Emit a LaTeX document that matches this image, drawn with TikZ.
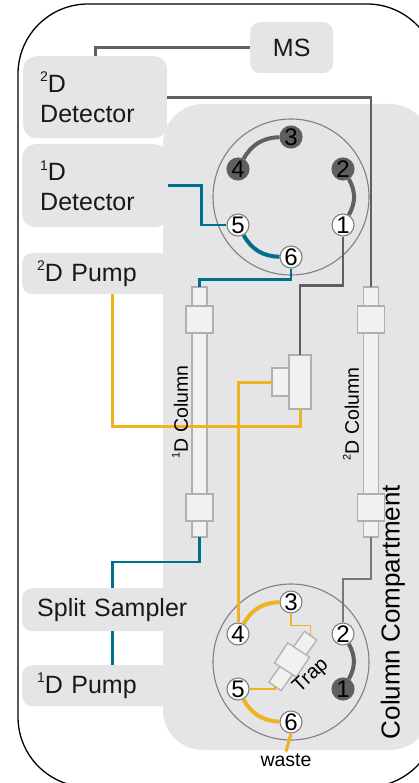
\documentclass[tikz,border=0pt]{standalone}
\usepackage{fontspec}
\setmainfont{Liberation Sans}
\usetikzlibrary{calc,positioning}
\definecolor{panelgray}{HTML}{E5E5E7}
\definecolor{partfill}{HTML}{F1F1F1}
\definecolor{partline}{HTML}{B0B0B0}
\definecolor{tubegray}{HTML}{5F5F5F}
\definecolor{tubeteal}{HTML}{00708A}
\definecolor{tubeamber}{HTML}{EFB221}
\pgfmathsetmacro{\tubewidth}{2.7}
\pgfmathsetmacro{\arcwidth}{4}
\newcommand{\labelfont}{\fontsize{25}{30}\selectfont}
\newcommand{\columnfont}{\fontsize{19.5}{23}\selectfont}
\newcommand{\supnum}[1]{\raisebox{0.42em}{\scalebox{0.56}{#1}}}
\tikzset{
    boxnode/.style={fill=panelgray, rounded corners=10pt, anchor=north west, align=left,
        inner xsep=15pt, inner ysep=0pt, font=\labelfont, text=black!90},
    stubnode/.style={draw=partline, fill=partfill, line width=1.3pt, minimum width=15pt,
        minimum height=19pt, inner sep=0pt, outer sep=0pt},
    fittingnode/.style={stubnode, minimum width=27pt, minimum height=27pt},
    tubenode/.style={stubnode, minimum height=161pt},
    portnode/.style={circle, draw=gray, fill=white, line width=1.1pt, minimum size=22pt,
        inner sep=0pt, font=\fontsize{24}{24}\selectfont},
    darkport/.style={portnode, draw=tubegray, fill=tubegray},
    valvenode/.style={circle, draw=gray, line width=1.1pt, minimum size=156pt, inner sep=0pt},
    grayline/.style={draw=tubegray, line width=\tubewidth pt},
    tealline/.style={draw=tubeteal, line width=\tubewidth pt},
    amberline/.style={draw=tubeamber, line width=3pt},
}
\begin{document}
\begin{tikzpicture}[x=1pt, y=1pt]
    \useasboundingbox (0,-783) rectangle (418,0);
    % housing and compartment
    \draw[black, line width=1.3pt, rounded corners=70pt] (18,-4) rectangle (437,-787);
    \fill[panelgray, rounded corners=40pt] (163,-104) rectangle (430,-750);
    % define boxes
    \node[boxnode, minimum width=83pt, minimum height=51pt, align=center, inner xsep=0pt] (ms) at (250,-22) {\raisebox{-4pt}{MS}};
    \node[boxnode, text width=110pt, minimum height=82pt, inner xsep=17pt, rounded corners=13pt] (det_two) at (23,-56) {\supnum{2}D\\Detector};
    \node[boxnode, text width=110pt, minimum height=83pt, inner xsep=18pt, rounded corners=13pt] (det_one) at (22,-144) {\supnum{1}D\\Detector};
    \node[boxnode, text width=150pt, minimum height=41pt] (pump_two) at (22,-253) {\raisebox{-2pt}{\supnum{2}D Pump}};
    \node[boxnode, text width=150pt, minimum height=43pt] (sampler) at (22,-588) {\mbox{Split Sampler}};
    \node[boxnode, text width=150pt, minimum height=41pt] (pump_one) at (22,-665) {\raisebox{-2pt}{\supnum{1}D Pump}};
    % first column
    \node[stubnode] (one_top) at (199.5,-296.5) {};
    \node[fittingnode, below=0pt of one_top] (one_fit_a) {};
    \node[tubenode, below=0pt of one_fit_a] (one_tube) {};
    \node[fittingnode, below=0pt of one_tube] (one_fit_b) {};
    \node[stubnode, minimum height=16pt, below=0pt of one_fit_b] (one_bottom) {};
    % second column
    \node[stubnode] (two_top) at (371,-296.5) {};
    \node[fittingnode, below=0pt of two_top] (two_fit_a) {};
    \node[tubenode, below=0pt of two_fit_a] (two_tube) {};
    \node[fittingnode, below=0pt of two_tube] (two_fit_b) {};
    \node[stubnode, minimum height=16pt, below=0pt of two_fit_b] (two_bottom) {};
    % tee
    \node[stubnode, minimum width=22pt, minimum height=54pt] (tee_main) at (300,-382) {};
    \node[stubnode, minimum width=17pt, minimum height=28pt, left=0pt of tee_main] (tee_side) {};
    % upper valve
    \node[valvenode] (top_valve) at (291,-197) {};
    \node[darkport] (top_3) at ($(top_valve)+(0,60)$) {3};
    \node[darkport] (top_2) at ($(top_valve)+(52,28)$) {2};
    \node[portnode] (top_1) at ($(top_valve)+(52,-28)$) {1};
    \node[portnode] (top_6) at ($(top_valve)+(0,-60)$) {6};
    \node[portnode] (top_5) at ($(top_valve)+(-53,-28)$) {5};
    \node[darkport] (top_4) at ($(top_valve)+(-53,28)$) {4};
    % lower valve
    \node[valvenode] (low_valve) at (291,-662) {};
    \node[portnode] (low_3) at ($(low_valve)+(0,60)$) {3};
    \node[portnode] (low_2) at ($(low_valve)+(52,28)$) {2};
    \node[darkport] (low_1) at ($(low_valve)+(52,-27)$) {1};
    \node[portnode] (low_6) at ($(low_valve)+(0,-60)$) {6};
    \node[portnode] (low_5) at ($(low_valve)+(-53,-27)$) {5};
    \node[portnode] (low_4) at ($(low_valve)+(-53,28)$) {4};
    % trap
    \node[stubnode, rotate=55, minimum width=62pt, minimum height=15pt] (trap_tube) at (292.8,-661) {};
    \node[stubnode, rotate=57, minimum width=24pt, minimum height=26pt] (trap_fit) at (292,-660) {};
    % draw connectors
    \draw[grayline] (ms.west) -| (det_two.north);
    \draw[grayline] (det_two.east) -| (two_top.north);
    \draw[grayline] (top_1.south) -- ++(0,-49) -| (tee_main.north);
    \draw[grayline, tubegray!85] (two_bottom.south) -- ++(0,-42) -| (low_2.north);
    \draw[tealline] (det_one.east) -- ++(33,0) |- (top_5.west);
    \draw[tealline] (top_6.south) -- ++(0,-11) -| (one_top.north);
    \draw[tealline] (one_bottom.south) -- ++(0,-25) -| (sampler.north);
    \draw[tealline] (sampler.south) -- (pump_one.north);
    \draw[amberline] (pump_two.south) -- ++(0,-132) -| (tee_main.south);
    \draw[amberline] (tee_side.west) -| (low_4.north);
    \draw[amberline, line width=1.8pt] (low_3.south) -- ++(0,-12) -| (trap_tube.east);
    \draw[amberline, line width=1.8pt] (low_5.east) -| (trap_tube.west);
    % rotor grooves
    \draw[tubegray, line width=\arcwidth pt] (top_3) to[bend right=30] (top_4);
    \draw[tubegray, line width=\arcwidth pt] (top_2) to[bend left=30] (top_1);
    \draw[tubeteal, line width=\arcwidth pt] (top_5) to[bend right=30] (top_6);
    \draw[tubeamber, line width=\arcwidth pt] (low_4) to[bend left=30] (low_3);
    \draw[tubegray, line width=\arcwidth pt] (low_2) to[bend left=30] (low_1);
    \draw[tubeamber, line width=\arcwidth pt] (low_5) to[bend right=30] (low_6);
    % add labels
    \node[font=\fontsize{19.5}{23}\selectfont, inner sep=2pt] (waste) at (286,-760) {waste};
    \draw[amberline] (low_6.south) -- (waste.north);
    \node[font=\columnfont, rotate=90] (one_label) at (180,-412) {\supnum{1}D Column};
    \node[font=\columnfont, rotate=90] (two_label) at (351,-414) {\supnum{2}D Column};
    \node[font=\fontsize{26}{30}\selectfont, rotate=90] (panel_label) at (393,-612) {Column Compartment};
    \node[font=\fontsize{20}{24}\selectfont, rotate=43, inner sep=0pt] (trap_label) at (311,-676) {Trap};
\end{tikzpicture}
\end{document}
